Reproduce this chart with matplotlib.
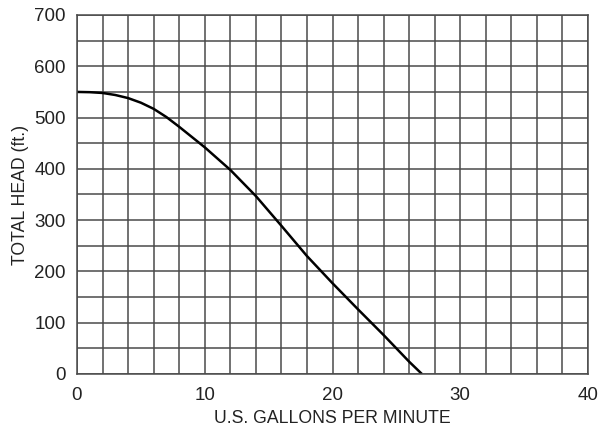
import matplotlib
matplotlib.use("Agg")
import matplotlib.pyplot as plt
import numpy as np

gpm = [0, 1, 2, 3, 4, 5, 6, 7, 8, 9, 10, 12, 14, 16, 18, 20, 22, 24, 26, 27]
head = [550, 549.5, 548, 544, 538, 529, 517, 501, 482, 462, 442, 398, 347, 289, 230, 177, 126, 76, 24, 0]
x_ticks = [0, 10, 20, 30, 40]
y_ticks = [0, 100, 200, 300, 400, 500, 600, 700]

plt.rcParams['font.family'] = ['Liberation Sans', 'DejaVu Sans']

fig = plt.figure(figsize=(6, 4.29), dpi=100)
ax = fig.add_axes([77/600, 1-374/429, (588-77)/600, (374-15)/429])

ax.set_xlim(0, 40)
ax.set_ylim(0, 700)
ax.set_xticks(np.arange(0, 41, 2), minor=True)
ax.set_yticks(np.arange(0, 701, 50), minor=True)
ax.set_xticks(x_ticks)
ax.set_yticks(y_ticks)
ax.grid(True, which='both', color='#4a4a4a', linewidth=1.1)
ax.set_axisbelow(True)
for s in ax.spines.values():
    s.set_color('#4a4a4a')
    s.set_linewidth(1.1)
ax.tick_params(which='both', length=0, labelsize=13.5, colors='#222222')
ax.tick_params(axis='x', pad=9)
ax.tick_params(axis='y', pad=8)

ax.plot(gpm, head, color='black', linewidth=1.8, solid_capstyle='butt')

ax.set_xlabel('U.S. GALLONS PER MINUTE', fontsize=12.7, color='#222222', labelpad=5)
ax.set_ylabel('TOTAL HEAD (ft.)', fontsize=12.7, color='#222222', labelpad=4)

fig.savefig('out.png', dpi=100)
